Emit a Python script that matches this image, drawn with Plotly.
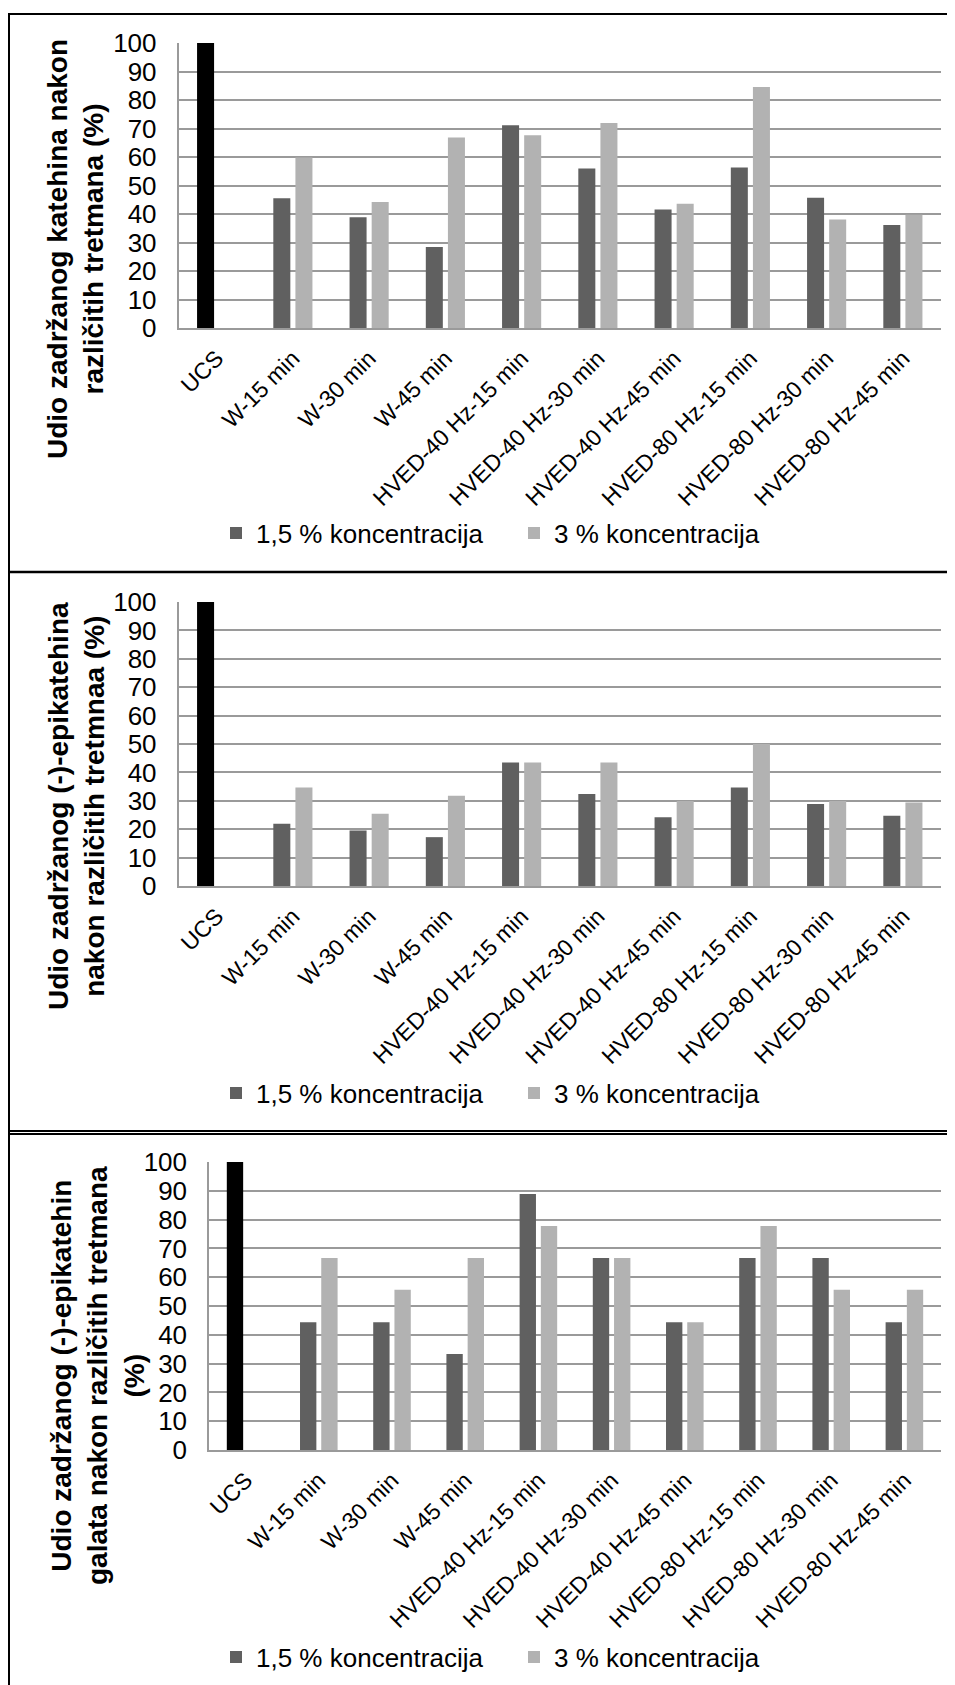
import plotly.graph_objects as go

W, H = 955, 1685
OFF = 8  # page body margin compensation

categories = ["UCS", "W-15 min", "W-30 min", "W-45 min",
              "HVED-40 Hz-15 min", "HVED-40 Hz-30 min", "HVED-40 Hz-45 min",
              "HVED-80 Hz-15 min", "HVED-80 Hz-30 min", "HVED-80 Hz-45 min"]
treatments = categories[1:]
ucs_value = [100]

series_names = ["1,5 % koncentracija", "3 % koncentracija"]

# Panel 1: katehin
kat_15 = [45.5, 38.9, 28.4, 71.1, 56.0, 41.6, 56.3, 45.7, 36.1]
kat_3 = [59.8, 44.2, 66.8, 67.6, 71.9, 43.6, 84.6, 38.1, 39.7]

# Panel 2: (-)-epikatehin
epi_15 = [21.9, 19.5, 17.2, 43.5, 32.4, 24.2, 34.7, 28.9, 24.7]
epi_3 = [34.7, 25.4, 31.8, 43.5, 43.5, 29.9, 50.0, 29.9, 29.4]

# Panel 3: (-)-epikatehin galat
gal_15 = [44.4, 44.4, 33.3, 88.9, 66.7, 44.4, 66.7, 66.7, 44.4]
gal_3 = [66.7, 55.6, 66.7, 77.8, 66.7, 44.4, 77.8, 55.6, 55.6]

y_ticks = list(range(0, 101, 10))

titles = [
    "Udio zadržanog katehina nakon<br>različitih tretmana (%)",
    "Udio zadržanog (-)-epikatehina<br>nakon različitih tretmnaa (%)",
    "Udio zadržanog (-)-epikatehin<br>galata nakon različitih tretmana<br>(%)",
]

C_UCS = "#000000"
C_15 = "#606060"
C_3 = "#b2b2b2"
FONT = "Liberation Sans, Arial, sans-serif"

def px_x(v):
    return (v - OFF) / W

def px_y(v):
    return 1 - (v - OFF) / H

# panel geometry in screen pixels: (x0, x1, ytop, ybottom, title_x, title_y, legend_y)
panels = [
    (178.5, 941, 43, 328, 76, 249, 533),
    (178.5, 941, 602, 886, 76, 806, 1093),
    (209, 941, 1162, 1450, 98, 1376, 1657),
]

data_sets = [(kat_15, kat_3), (epi_15, epi_3), (gal_15, gal_3)]

fig = go.Figure()
annotations = []
layout_axes = {}

for i, ((x0, x1, yt, yb, tx, ty, ly), (s15, s3)) in enumerate(zip(panels, data_sets)):
    n = i + 1
    xa = "x" if n == 1 else f"x{n}"
    ya = "y" if n == 1 else f"y{n}"
    leg = "legend" if n == 1 else f"legend{n}"
    fig.add_trace(go.Bar(x=categories[:1], y=ucs_value, xaxis=xa, yaxis=ya,
                         marker=dict(color=C_UCS, line=dict(width=0)),
                         offsetgroup="a", showlegend=False, legend=leg,
                         name="UCS"))
    fig.add_trace(go.Bar(x=treatments, y=s15, xaxis=xa, yaxis=ya,
                         marker=dict(color=C_15, line=dict(width=0)),
                         offsetgroup="a", name=series_names[0], legend=leg))
    fig.add_trace(go.Bar(x=treatments, y=s3, xaxis=xa, yaxis=ya,
                         marker=dict(color=C_3, line=dict(width=0)),
                         offsetgroup="b", name=series_names[1], legend=leg))

    xkey = "xaxis" if n == 1 else f"xaxis{n}"
    ykey = "yaxis" if n == 1 else f"yaxis{n}"
    layout_axes[xkey] = dict(
        domain=[px_x(x0), px_x(x1)], anchor=ya, automargin=False,
        categoryorder="array", categoryarray=categories,
        range=[-0.5, len(categories) - 0.5],
        showline=True, linecolor="#9a9a9a", linewidth=1.5,
        showgrid=False, ticks="", tickangle=-45,
        tickfont=dict(family=FONT, size=23, color="#000000"),
        ticklabelstandoff=6, fixedrange=True,
    )
    layout_axes[ykey] = dict(
        domain=[px_y(yb), px_y(yt)], anchor=xa, automargin=False,
        range=[0, 100], tickvals=y_ticks,
        showline=True, linecolor="#9a9a9a", linewidth=1.5,
        showgrid=True, gridcolor="#9a9a9a", gridwidth=1.5,
        zeroline=False, ticks="",
        tickfont=dict(family=FONT, size=26, color="#000000"),
        ticklabelstandoff=15, fixedrange=True,
    )
    annotations.append(dict(
        x=px_x(tx), y=px_y(ty), xref="paper", yref="paper",
        text=f"<b>{titles[i]}</b>", textangle=-90, showarrow=False,
        font=dict(family=FONT, size=28, color="#000000"),
        xanchor="center", yanchor="middle", align="center",
    ))
    legkey = "legend" if n == 1 else f"legend{n}"
    layout_axes[legkey] = dict(
        orientation="h", x=px_x(216), y=px_y(ly), xanchor="left", yanchor="middle",
        font=dict(family=FONT, size=26, color="#000000"),
        bgcolor="rgba(0,0,0,0)", itemclick=False, itemdoubleclick=False,
        traceorder="normal", entrywidth=253, entrywidthmode="pixels",
    )

shapes = [
    dict(type="line", xref="paper", yref="paper", x0=px_x(8), x1=1, y0=px_y(14), y1=px_y(14),
         line=dict(color="#000000", width=2)),
    dict(type="line", xref="paper", yref="paper", x0=px_x(9), x1=px_x(9), y0=px_y(13), y1=0,
         line=dict(color="#000000", width=2)),
    dict(type="line", xref="paper", yref="paper", x0=px_x(8), x1=1, y0=px_y(572), y1=px_y(572),
         line=dict(color="#000000", width=2.5)),
    dict(type="line", xref="paper", yref="paper", x0=px_x(8), x1=1, y0=px_y(1131), y1=px_y(1131),
         line=dict(color="#000000", width=2)),
    dict(type="line", xref="paper", yref="paper", x0=px_x(8), x1=1, y0=px_y(1134), y1=px_y(1134),
         line=dict(color="#000000", width=2)),
]

fig.update_layout(
    template="none",
    width=W, height=H, autosize=False,
    margin=dict(l=0, r=0, t=0, b=0, pad=0, autoexpand=False),
    paper_bgcolor="white", plot_bgcolor="white",
    barmode="group", bargap=0.42, bargroupgap=0.23,
    annotations=annotations, shapes=shapes,
    font=dict(family=FONT, color="#000000"),
    **layout_axes,
)

fig.write_html("out.html", config={"displayModeBar": False})
